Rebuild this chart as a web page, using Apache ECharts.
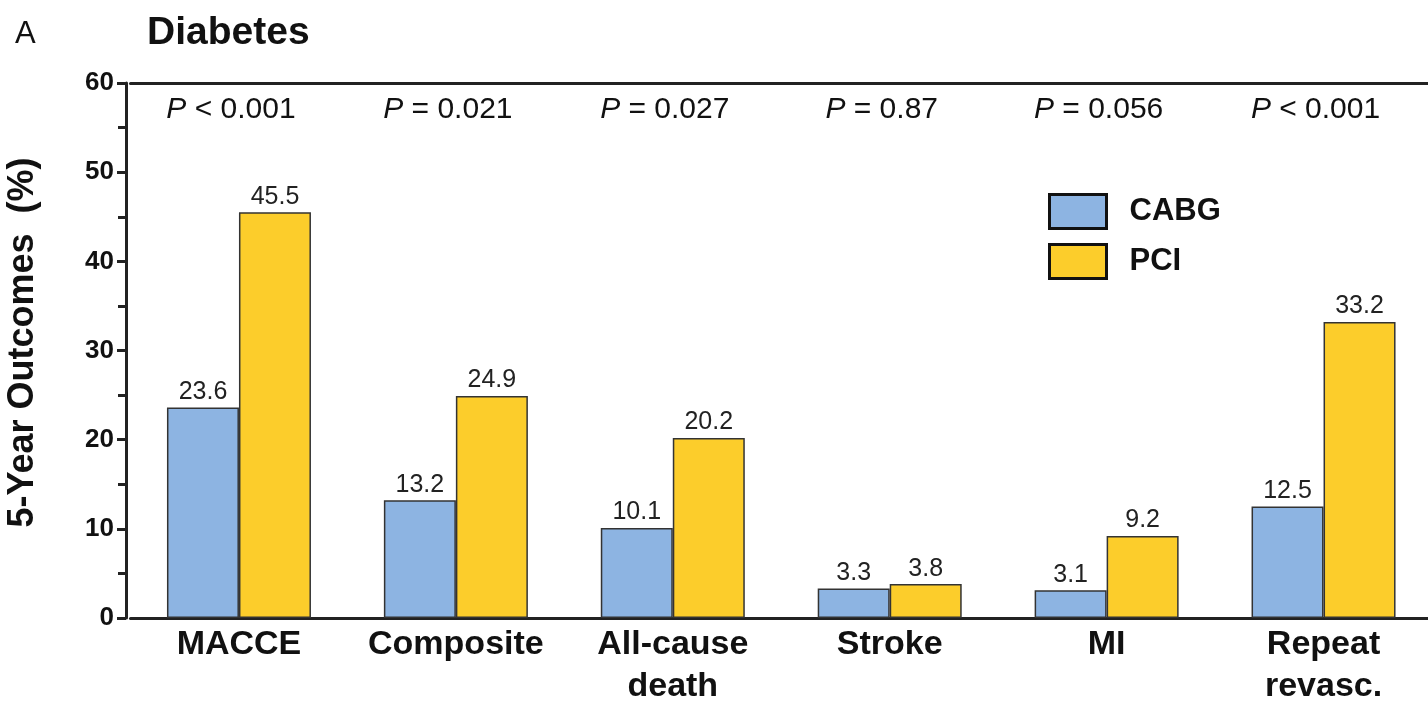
<!DOCTYPE html>
<html>
<head>
<meta charset="utf-8">
<script src="https://cdn.jsdelivr.net/npm/echarts@6/dist/echarts.min.js"></script>
<style>html,body{margin:0;padding:0;background:#fff}#c{width:1428px;height:701px}</style>
</head>
<body>
<div id="c"></div>
<script>
var categories = ['MACCE', 'Composite', 'All-cause\ndeath', 'Stroke', 'MI', 'Repeat\nrevasc.'];
var cabg = [23.6, 13.2, 10.1, 3.3, 3.1, 12.5];
var pci = [45.5, 24.9, 20.2, 3.8, 9.2, 33.2];
var pValues = ['< 0.001', '= 0.021', '= 0.027', '= 0.87', '= 0.056', '< 0.001'];
var yTicks = [0, 10, 20, 30, 40, 50, 60];

var FONT = '"Liberation Sans", Arial, Helvetica, sans-serif';
var chart = echarts.init(document.getElementById('c'), null, {renderer: 'canvas'});
chart.setOption({
  backgroundColor: '#fff',
  animation: false,
  textStyle: {fontFamily: FONT},
  title: [
    {text: 'A', left: 10, top: 14, textStyle: {fontFamily: FONT, fontSize: 31, fontWeight: 'normal', color: '#111'}},
    {text: 'Diabetes', left: 142, top: 9, textStyle: {fontFamily: FONT, fontSize: 39, fontWeight: 'bold', color: '#111'}}
  ],
  legend: {
    orient: 'vertical',
    left: 1043, top: 188,
    icon: 'rect',
    itemWidth: 57, itemHeight: 34, itemGap: 13,
    textStyle: {fontFamily: FONT, fontSize: 31, fontWeight: 'bold', color: '#111', padding: [0, 0, 0, 18]},
    itemStyle: {borderColor: '#111', borderWidth: 3},
    data: ['CABG', 'PCI']
  },
  grid: {left: 130.5, right: -4, top: 83, bottom: 83, containLabel: false, outerBoundsMode: 'none'},
  xAxis: [
    {
      type: 'category', data: categories, position: 'bottom',
      axisLine: {lineStyle: {color: '#222', width: 3}},
      axisTick: {show: false},
      axisLabel: {fontFamily: FONT, fontSize: 34, fontWeight: 'bold', color: '#111', margin: 6, lineHeight: 42, interval: 0}
    },
    {
      type: 'category', data: pValues, position: 'top',
      axisLine: {lineStyle: {color: '#222', width: 3}},
      axisTick: {show: false},
      axisLabel: {
        inside: true, margin: 12, interval: 0, padding: [0, 16, 0, 0],
        formatter: function (v) { return '{i|P}{n| ' + v + '}'; },
        rich: {
          i: {fontFamily: FONT, fontSize: 30, fontStyle: 'italic', color: '#111'},
          n: {fontFamily: FONT, fontSize: 30, color: '#111'}
        }
      }
    }
  ],
  yAxis: {
    type: 'value', min: yTicks[0], max: yTicks[yTicks.length - 1], interval: 10, offset: 4.5,
    name: '5-Year Outcomes  (%)', nameLocation: 'middle', nameGap: 85, nameRotate: 90,
    nameTextStyle: {fontFamily: FONT, fontSize: 36, fontWeight: 'bold', color: '#111', padding: [0, 0, 0, 16]},
    axisLine: {show: true, lineStyle: {color: '#222', width: 3}},
    axisTick: {show: true, length: 9, lineStyle: {color: '#222', width: 3}},
    minorTick: {show: true, splitNumber: 2, length: 8, lineStyle: {color: '#222', width: 3}},
    splitLine: {show: false},
    axisLabel: {fontFamily: FONT, fontSize: 26, fontWeight: 'bold', color: '#111', margin: 12}
  },
  series: [
    {
      name: 'CABG', type: 'bar', data: cabg, barWidth: 72, barGap: '0%',
      itemStyle: {color: '#8db4e2', borderColor: '#333', borderWidth: 1.5},
      label: {show: true, position: 'top', distance: 3, fontFamily: FONT, fontSize: 25, color: '#222'}
    },
    {
      name: 'PCI', type: 'bar', data: pci, barWidth: 72, barGap: '0%',
      itemStyle: {color: '#fccd2b', borderColor: '#333', borderWidth: 1.5},
      label: {show: true, position: 'top', distance: 3, fontFamily: FONT, fontSize: 25, color: '#222'}
    }
  ]
});
</script>
</body>
</html>
